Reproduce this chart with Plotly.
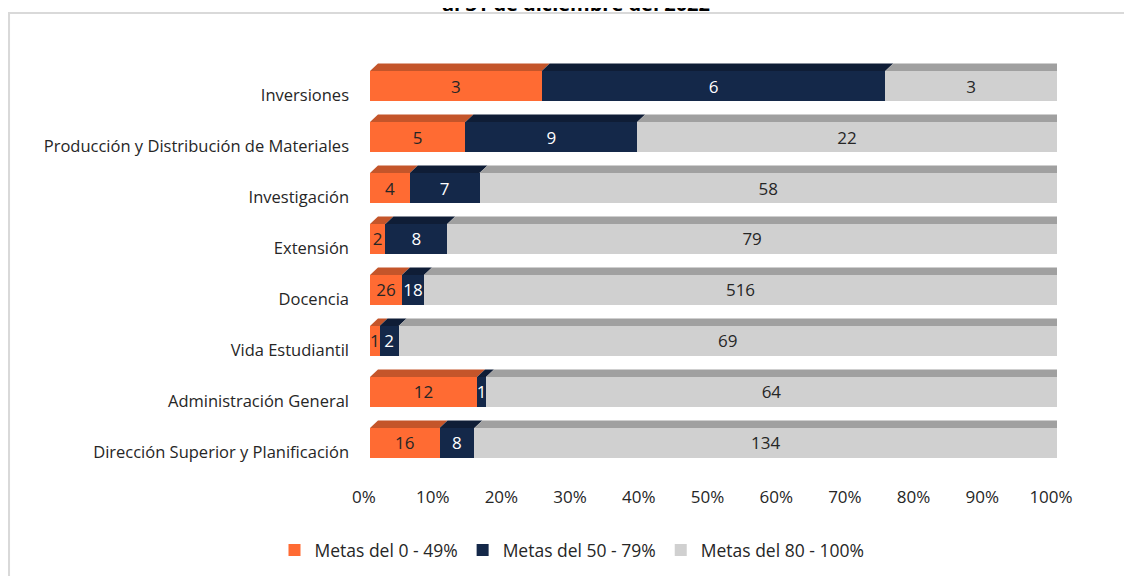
import plotly.graph_objects as go

# Data
categories = [
    'Dirección Superior y Planificación',
    'Administración General',
    'Vida Estudiantil',
    'Docencia',
    'Extensión',
    'Investigación',
    'Producción y Distribución de Materiales',
    'Inversiones',
]
metas_0_49 = [16, 12, 1, 26, 2, 4, 5, 3]
metas_50_79 = [8, 1, 2, 18, 8, 7, 9, 6]
metas_80_100 = [134, 64, 69, 516, 79, 58, 22, 3]

series_names = ['Metas del 0 - 49%', 'Metas del 50 - 79%', 'Metas del 80 - 100%']
title_text = 'al 31 de diciembre del 2022'

COLORS = {
    'orange': '#FF6B33',
    'orange_top': '#C4552A',
    'navy': '#142849',
    'navy_top': '#0F1D36',
    'gray': '#D0D0D0',
    'gray_top': '#A0A0A0',
    'gray_side': '#8A8A8A',
    'text': '#262626',
    'border': '#D9D9D9',
}

FONT = 'Open Sans, sans-serif'

# Layout geometry (pixels); the page body adds an 8px offset
OFF = 8
W, H = 1132, 576
M_L, M_R, M_T, M_B = 370 - OFF, 1132 - 1057 + OFF, 50 - OFF, 576 - 485 + OFF
ROW_PX = 51
BAR_W = 30 / ROW_PX
Y_RANGE = [-0.824, 7.706]
DEPTH_X_PX, DEPTH_Y_PX = 8, 7.5

plot_w = W - M_L - M_R
plot_h = H - M_T - M_B
dx = DEPTH_X_PX / plot_w * 100
dy = DEPTH_Y_PX / plot_h * (Y_RANGE[1] - Y_RANGE[0])

ypos = list(range(len(categories)))
series = [metas_0_49, metas_50_79, metas_80_100]
fronts = [COLORS['orange'], COLORS['navy'], COLORS['gray']]
tops = [COLORS['orange_top'], COLORS['navy_top'], COLORS['gray_top']]
text_colors = [COLORS['text'], 'white', COLORS['text']]

fig = go.Figure()

for name, vals, col, tcol in zip(series_names, series, fronts, text_colors):
    fig.add_trace(
        go.Bar(
            y=ypos,
            x=vals,
            name=name,
            orientation='h',
            width=BAR_W,
            marker=dict(color=col, line=dict(width=0)),
            text=[str(v) for v in vals],
            textposition='inside',
            insidetextanchor='middle',
            textangle=0,
            constraintext='none',
            insidetextfont=dict(color=tcol, size=17, family=FONT),
            hovertemplate='%{text}<extra></extra>',
        )
    )

# 3D faces: top faces of every segment and right end face of each bar
totals = [a + b + c for a, b, c in zip(*series)]
for i, y in enumerate(ypos):
    yt = y + BAR_W / 2
    yb = y - BAR_W / 2
    start = 0.0
    for s, vals in enumerate(series):
        end = start + vals[i] / totals[i] * 100
        path = (f'M {start},{yt} L {end},{yt} L {end + dx},{yt + dy} '
                f'L {start + dx},{yt + dy} Z')
        fig.add_shape(type='path', path=path, xref='x', yref='y',
                      fillcolor=tops[s], line=dict(width=0), layer='above')
        start = end
    path = (f'M 100,{yb} L 100,{yt} L {100 + dx},{yt + dy} '
            f'L {100 + dx},{yb + dy} Z')
    fig.add_shape(type='path', path=path, xref='x', yref='y',
                  fillcolor=COLORS['gray_side'], line=dict(width=0), layer='above')

# Chart border (top and left edges visible in the crop)
bx = (8 - OFF - M_L) / plot_w
by = (H - M_B - (13 - OFF)) / plot_h
fig.add_shape(type='path', xref='paper', yref='paper',
              path=f'M {bx + 0.0015},-0.5 L {bx + 0.0015},{by} L 1.3,{by}',
              line=dict(color=COLORS['border'], width=2))

# Cut-off title (only its lower part shows in the reference)
fig.add_annotation(
    text=f'<b>{title_text}</b>', xref='paper', yref='paper',
    x=(576 - OFF - M_L) / plot_w, y=(H - M_B - 11) / plot_h,
    xanchor='center', yanchor='bottom', showarrow=False,
    font=dict(size=20, color='black', family=FONT),
)

fig.update_layout(
    width=W, height=H,
    barmode='stack',
    barnorm='percent',
    paper_bgcolor='white',
    plot_bgcolor='white',
    margin=dict(l=M_L, r=M_R, t=M_T, b=M_B),
    font=dict(family=FONT, color=COLORS['text'], size=16),
    showlegend=True,
    legend=dict(
        orientation='h', xref='container', yref='container',
        x=(572 - OFF) / W, y=1 - (550 - OFF) / H, xanchor='center', yanchor='middle',
        font=dict(size=17.5, color=COLORS['text']),
        traceorder='normal', itemwidth=30,
    ),
)

fig.update_xaxes(
    range=[0, 100], tickvals=list(range(0, 101, 10)),
    ticktext=[f'{v}%' for v in range(0, 101, 10)],
    showgrid=False, zeroline=False, showline=False,
    ticklabelshift=-6, tickfont=dict(size=17),
)
fig.update_yaxes(
    range=Y_RANGE, tickvals=ypos, ticktext=categories,
    showgrid=False, zeroline=False, showline=False,
    ticklabelstandoff=20, ticklabelshift=9, tickfont=dict(size=16.5),
)

fig.write_html('out.html')
